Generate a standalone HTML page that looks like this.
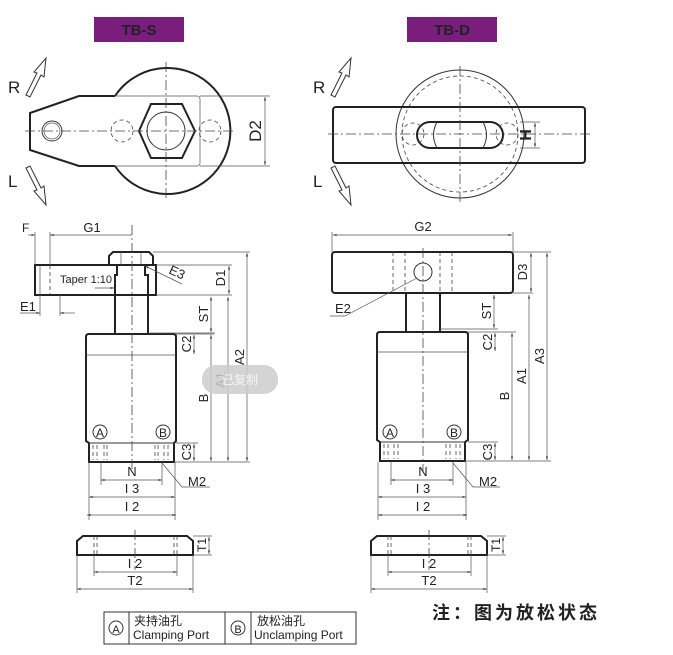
<!DOCTYPE html>
<html><head><meta charset="utf-8"><style>
body{margin:0;background:#fff}
svg{display:block}
text{font-family:"Liberation Sans",Arial,sans-serif;fill:#222}
.t{stroke:#222;stroke-width:2;fill:none}
.m{stroke:#333;stroke-width:1;fill:none}
.n{stroke:#555;stroke-width:.7;fill:none}
.d{stroke:#444;stroke-width:.8;fill:none;stroke-dasharray:4 3}
.c{stroke:#444;stroke-width:.8;fill:none;stroke-dasharray:10 3 2 3}
</style></head><body>
<svg width="673" height="655" viewBox="0 0 673 655" xmlns="http://www.w3.org/2000/svg">
<defs>
<marker id="a" viewBox="0 0 10 10" refX="10" refY="5" markerWidth="7" markerHeight="5" orient="auto-start-reverse"><path d="M0,2 L10,5 L0,8z" fill="#333"/></marker>
</defs>
<rect x="94" y="17" width="90" height="25" fill="#7a1e7e"/>
<text x="139" y="35" text-anchor="middle" font-size="15" font-weight="bold" fill="#222">TB-S</text>
<rect x="407" y="17" width="90" height="25" fill="#7a1e7e"/>
<text x="452" y="35" text-anchor="middle" font-size="15" font-weight="bold">TB-D</text>

<g id="rl">
<text x="8" y="93" font-size="17">R</text>
<text x="8" y="187" font-size="17">L</text>
<path d="M26,95 L37,73 L34,72 L46,58 L44,77 L41,75 L30,97z" class="m"/>
<path d="M26,168 L37,190 L34,191 L46,205 L44,186 L41,188 L30,166z" class="m"/>
</g>
<use href="#rl" x="305" y="0"/>

<path d="M115,96 A63,63 0 1 1 115,166" class="t"/>
<path d="M115,96 L79,96 L30,113 L30,150 L79,166 L115,166" class="t"/>
<path d="M115,96 L197,96 Q200,96 200,99 L200,163 Q200,166 197,166 L115,166" class="n"/>
<circle cx="52" cy="131" r="10" class="m"/><circle cx="52" cy="131" r="8" class="n"/>
<circle cx="122" cy="131" r="11" class="d"/><circle cx="210" cy="131" r="11" class="d"/>
<polygon points="139,131 151,104 182,104 195,131 182,158 151,158" class="t" stroke-width="1.6"/>
<circle cx="166" cy="131" r="19" class="m"/>
<line x1="25" y1="131" x2="235" y2="131" class="c"/>
<line x1="166" y1="62" x2="166" y2="200" class="c"/>
<line x1="200" y1="96" x2="270" y2="96" class="n"/><line x1="200" y1="166" x2="270" y2="166" class="n"/>
<line x1="265" y1="97" x2="265" y2="165" class="n" marker-start="url(#a)" marker-end="url(#a)"/>
<text transform="translate(261,131) rotate(-90)" text-anchor="middle" font-size="17">D2</text>

<circle cx="460" cy="134" r="64" class="m" stroke-width=".8"/>
<circle cx="460" cy="134" r="58" class="d"/>
<rect x="333" y="107" width="252" height="56" rx="3" class="t" fill="#fff"/>
<path d="M430,122 L490,122 A13,13 0 0 1 490,148 L430,148 A13,13 0 0 1 430,122z" class="t" stroke-width="1.6"/>
<path d="M437,122 Q430,135 437,148 M483,122 Q490,135 483,148" class="m"/>
<circle cx="413" cy="134" r="11" class="d"/><circle cx="507" cy="134" r="11" class="d"/>
<line x1="328" y1="134" x2="592" y2="134" class="c"/>
<line x1="460" y1="66" x2="460" y2="203" class="c"/>
<line x1="520" y1="122" x2="540" y2="122" class="n"/><line x1="520" y1="148" x2="540" y2="148" class="n"/>
<line x1="535" y1="123" x2="535" y2="147" class="n" marker-start="url(#a)" marker-end="url(#a)"/>
<text transform="translate(531,135) rotate(-90)" text-anchor="middle" font-size="16" font-weight="bold">H</text>

<!-- TB-S side -->
<rect x="35" y="265" width="121" height="30" class="t" stroke-width="1.5"/>
<line x1="50" y1="265" x2="50" y2="295" class="d"/><line x1="40" y1="265" x2="40" y2="295" class="n"/>
<path d="M109,256 L113,252 L149,252 L153,256 L153,265 L109,265z" class="t" stroke-width="1.5" fill="#fff"/>
<line x1="121" y1="252" x2="121" y2="265" class="n"/><line x1="141" y1="252" x2="141" y2="265" class="n"/>
<path d="M117,265 L117,275 L115,275 L115,334 M145,265 L145,275 L148,275 L148,334" class="t" stroke-width="1.5"/>
<path d="M86,337 Q86,334 89,334 L173,334 Q176,334 176,337 L176,441 L174,443 L174,462 L89,462 L89,443 L86,441z" class="t" stroke-width="1.8"/>
<line x1="86" y1="355" x2="176" y2="355" class="n"/>
<line x1="89" y1="443" x2="174" y2="443" class="m"/>
<path d="M93,445v15M97,445v15M104,445v15M107,445v15M155,445v15M158,445v15M164,445v15M168,445v15" class="d" stroke-dasharray="2 2"/>
<circle cx="100" cy="432" r="7" class="m"/><text x="100" y="437" text-anchor="middle" font-size="12">A</text>
<circle cx="163" cy="432" r="7" class="m"/><text x="163" y="437" text-anchor="middle" font-size="12">B</text>
<line x1="132" y1="225" x2="132" y2="472" class="c"/>
<line x1="35" y1="232" x2="35" y2="265" class="n"/><line x1="50" y1="232" x2="50" y2="265" class="n"/>
<text x="22" y="232" font-size="12">F</text>
<line x1="28" y1="235" x2="35" y2="235" class="n" marker-end="url(#a)"/>
<line x1="50" y1="235" x2="132" y2="235" class="n" marker-start="url(#a)"/>
<text x="92" y="232" text-anchor="middle" font-size="13">G1</text>
<text x="60" y="283" font-size="11">Taper 1:10</text>
<line x1="95" y1="288" x2="114" y2="288" class="n" marker-end="url(#a)"/>
<text transform="translate(168,273) rotate(25)" font-size="13">E3</text>
<line x1="145" y1="266" x2="182" y2="284" class="n" marker-start="url(#a)"/>
<text x="20" y="311" font-size="13">E1</text>
<line x1="20" y1="313" x2="40" y2="313" class="n" marker-end="url(#a)"/>
<line x1="60" y1="313" x2="75" y2="313" class="n" marker-start="url(#a)"/>
<line x1="40" y1="295" x2="40" y2="316" class="n"/><line x1="60" y1="295" x2="60" y2="316" class="n"/>
<path d="M153,252H250M156,265H232M156,295H232M150,333H215M176,334H214M176,443H198M174,462H250" class="n"/>
<line x1="229" y1="266" x2="229" y2="294" class="n" marker-start="url(#a)" marker-end="url(#a)"/>
<text transform="translate(225,278) rotate(-90)" text-anchor="middle" font-size="13">D1</text>
<line x1="211" y1="297" x2="211" y2="332" class="n" marker-start="url(#a)" marker-end="url(#a)"/>
<text transform="translate(208,314) rotate(-90)" text-anchor="middle" font-size="13">ST</text>
<line x1="194" y1="335" x2="194" y2="354" class="n" marker-start="url(#a)" marker-end="url(#a)"/>
<text transform="translate(191,344) rotate(-90)" text-anchor="middle" font-size="13">C2</text>
<line x1="194" y1="444" x2="194" y2="461" class="n" marker-start="url(#a)" marker-end="url(#a)"/>
<text transform="translate(191,452) rotate(-90)" text-anchor="middle" font-size="13">C3</text>
<line x1="211" y1="335" x2="211" y2="461" class="n" marker-start="url(#a)" marker-end="url(#a)"/>
<text transform="translate(208,398) rotate(-90)" text-anchor="middle" font-size="13">B</text>
<line x1="228" y1="297" x2="228" y2="461" class="n" marker-start="url(#a)" marker-end="url(#a)"/>
<text transform="translate(225,380) rotate(-90)" text-anchor="middle" font-size="13">A1</text>
<line x1="247" y1="253" x2="247" y2="461" class="n" marker-start="url(#a)" marker-end="url(#a)"/>
<text transform="translate(244,357) rotate(-90)" text-anchor="middle" font-size="13">A2</text>
<path d="M101,462V485M162,462V485M89,462V520M175,462V520" class="n"/>
<line x1="101" y1="480" x2="162" y2="480" class="n" marker-start="url(#a)" marker-end="url(#a)"/>
<text x="132" y="476" text-anchor="middle" font-size="13">N</text>
<line x1="89" y1="497" x2="175" y2="497" class="n" marker-start="url(#a)" marker-end="url(#a)"/>
<text x="132" y="493" text-anchor="middle" font-size="13">I 3</text>
<line x1="87" y1="515" x2="176" y2="515" class="n" marker-start="url(#a)" marker-end="url(#a)"/>
<text x="132" y="511" text-anchor="middle" font-size="13">I 2</text>
<path d="M162,463 L182,487 H210" class="n"/>
<text x="188" y="486" font-size="13">M2</text>
<rect x="202" y="365" width="76" height="29" rx="14" fill="#ccc" opacity=".85"/>
<text x="240" y="384" text-anchor="middle" font-size="12" style="fill:#f4f4f4;font-family:'Noto Sans CJK SC',sans-serif">已复制</text>

<!-- TB-D side -->
<rect x="332" y="252" width="181" height="41" rx="3" class="t" stroke-width="1.5" fill="#fff"/>
<path d="M393,252v41M405,252v41M440,252v41M452,252v41" class="d"/>
<circle cx="423" cy="272" r="9" class="m"/>
<path d="M406,293V331M440,293V331" class="t" stroke-width="1.5"/>
<path d="M377,335 Q377,332 380,332 L465,332 Q468,332 468,335 L468,440 L465,442 L465,461 L380,461 L380,442 L377,440z" class="t" stroke-width="1.8"/>
<line x1="377" y1="352" x2="468" y2="352" class="n"/>
<line x1="380" y1="442" x2="465" y2="442" class="m"/>
<path d="M384,444v15M388,444v15M394,444v15M398,444v15M446,444v15M450,444v15M456,444v15M460,444v15" class="d" stroke-dasharray="2 2"/>
<circle cx="390" cy="432" r="7" class="m"/><text x="390" y="437" text-anchor="middle" font-size="12">A</text>
<circle cx="454" cy="432" r="7" class="m"/><text x="454" y="437" text-anchor="middle" font-size="12">B</text>
<line x1="423" y1="248" x2="423" y2="472" class="c"/>
<path d="M332,232V252M513,232V252" class="n"/>
<line x1="333" y1="235" x2="512" y2="235" class="n" marker-start="url(#a)" marker-end="url(#a)"/>
<text x="423" y="231" text-anchor="middle" font-size="13">G2</text>
<text x="335" y="313" font-size="13">E2</text>
<path d="M330,316 H345 L417,278" class="n"/>
<path d="M513,252H551M513,293H533M440,329H498M468,332H516M468,442H498M465,461H551" class="n"/>
<line x1="531" y1="253" x2="531" y2="292" class="n" marker-start="url(#a)" marker-end="url(#a)"/>
<text transform="translate(527,272) rotate(-90)" text-anchor="middle" font-size="13">D3</text>
<line x1="494" y1="295" x2="494" y2="328" class="n" marker-start="url(#a)" marker-end="url(#a)"/>
<text transform="translate(491,311) rotate(-90)" text-anchor="middle" font-size="13">ST</text>
<line x1="495" y1="333" x2="495" y2="351" class="n" marker-start="url(#a)" marker-end="url(#a)"/>
<text transform="translate(492,342) rotate(-90)" text-anchor="middle" font-size="13">C2</text>
<line x1="495" y1="443" x2="495" y2="460" class="n" marker-start="url(#a)" marker-end="url(#a)"/>
<text transform="translate(492,452) rotate(-90)" text-anchor="middle" font-size="13">C3</text>
<line x1="512" y1="333" x2="512" y2="460" class="n" marker-start="url(#a)" marker-end="url(#a)"/>
<text transform="translate(509,396) rotate(-90)" text-anchor="middle" font-size="13">B</text>
<line x1="529" y1="295" x2="529" y2="460" class="n" marker-start="url(#a)" marker-end="url(#a)"/>
<text transform="translate(526,376) rotate(-90)" text-anchor="middle" font-size="13">A1</text>
<line x1="547" y1="253" x2="547" y2="460" class="n" marker-start="url(#a)" marker-end="url(#a)"/>
<text transform="translate(544,356) rotate(-90)" text-anchor="middle" font-size="13">A3</text>
<path d="M391,462V485M453,462V485M378,462V520M466,462V520" class="n"/>
<line x1="391" y1="480" x2="453" y2="480" class="n" marker-start="url(#a)" marker-end="url(#a)"/>
<text x="423" y="476" text-anchor="middle" font-size="13">N</text>
<line x1="378" y1="497" x2="466" y2="497" class="n" marker-start="url(#a)" marker-end="url(#a)"/>
<text x="423" y="493" text-anchor="middle" font-size="13">I 3</text>
<line x1="378" y1="515" x2="467" y2="515" class="n" marker-start="url(#a)" marker-end="url(#a)"/>
<text x="423" y="511" text-anchor="middle" font-size="13">I 2</text>
<path d="M453,463 L473,487 H500" class="n"/>
<text x="479" y="486" font-size="13">M2</text>

<g id="pl">
<path d="M77,555 L77,541 L83,536 L187,536 L193,541 L193,555z" class="t" stroke-width="1.5"/>
<path d="M94,536v19M97,536v19M174,536v19M177,536v19" class="d" stroke-dasharray="2 2"/>
<line x1="135" y1="530" x2="135" y2="570" class="c"/>
<path d="M193,536H212M193,555H212M94,555V576M177,555V576M77,555V593M193,555V593" class="n"/>
<line x1="209" y1="537" x2="209" y2="554" class="n" marker-start="url(#a)" marker-end="url(#a)"/>
<text transform="translate(206,545) rotate(-90)" text-anchor="middle" font-size="12">T1</text>
<line x1="94" y1="572" x2="177" y2="572" class="n" marker-start="url(#a)" marker-end="url(#a)"/>
<text x="135" y="568" text-anchor="middle" font-size="13">I 2</text>
<line x1="77" y1="589" x2="193" y2="589" class="n" marker-start="url(#a)" marker-end="url(#a)"/>
<text x="135" y="585" text-anchor="middle" font-size="13">T2</text>
</g>
<use href="#pl" x="294" y="0"/>

<rect x="104" y="612" width="252" height="32" class="m" stroke="#444"/>
<path d="M129,612V644M225,612V644M251,612V644" class="m" stroke="#444"/>
<circle cx="116" cy="628" r="7" class="m"/><text x="116" y="633" text-anchor="middle" font-size="11">A</text>
<circle cx="238" cy="628" r="7" class="m"/><text x="238" y="633" text-anchor="middle" font-size="11">B</text>
<text x="134" y="625" font-size="12" style="font-family:'Liberation Sans','Noto Sans CJK SC',sans-serif">夹持油孔</text>
<text x="133" y="639" font-size="12">Clamping Port</text>
<text x="257" y="625" font-size="12" style="font-family:'Liberation Sans','Noto Sans CJK SC',sans-serif">放松油孔</text>
<text x="254" y="639" font-size="12">Unclamping Port</text>
<text x="432" y="619" font-size="18" font-weight="bold" letter-spacing="3" style="font-family:'Liberation Sans','Noto Sans CJK SC',sans-serif">注：图为放松状态</text>
</svg>
</body></html>
